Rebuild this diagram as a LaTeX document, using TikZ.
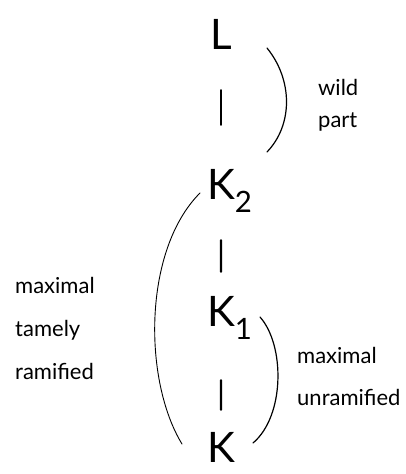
\documentclass[tikz,border=0pt]{standalone}
\usepackage{fontspec}
\setmainfont{Lato}

\begin{document}
\begin{tikzpicture}[x=1pt,y=1pt]
                        \tikzstyle{field}=[font=\fontsize{42}{42}\selectfont, inner sep=0pt, text height=30pt, text depth=0pt]
                        \tikzstyle{note}=[anchor=west, align=left, inner sep=0pt, font=\fontsize{22}{43}\selectfont]
                        \tikzstyle{paren}=[line width=1.2pt, line cap=round]
                        \tikzstyle{level 1}=[level distance=150pt, shorten <=40pt, shorten >=45pt]
                        \tikzstyle{level 2}=[level distance=127pt, shorten <=40pt, shorten >=25pt]
                        \tikzstyle{level 3}=[level distance=135pt, shorten <=53pt, shorten >=22pt]
                        \useasboundingbox (0,0) rectangle (406,474);
                        \node[field] (L) at (221,439) {L}
                            [every child node/.style={field}, edge from parent/.style={draw, line width=2.2pt, line cap=round}]
                            child {node (K2) {K\rlap{\textsubscript{2}}}
                                child {node (K1) {K\rlap{\textsubscript{1}}}
                                    child {node (K) {K}
                                    }
                                }
                            };
                        \draw[paren] (267,426) .. controls (293,394) and (293,349) .. (267,322);
                        \draw[paren, line width=0.9pt] (200,281) .. controls (143,224) and (143,94) .. (182,30);
                        \draw[paren] (260,157) .. controls (285,129) and (285,58) .. (253,31);
                        \node[note, font=\fontsize{22}{32}\selectfont] (wild) at (318,369) {wild\\part};
                        \node[note] (tame) at (15,146) {maximal\\tamely\\ramified};
                        \node[note, font=\fontsize{22}{42}\selectfont] (unram) at (297,98) {maximal\\unramified};
                    \end{tikzpicture}
\end{document}
